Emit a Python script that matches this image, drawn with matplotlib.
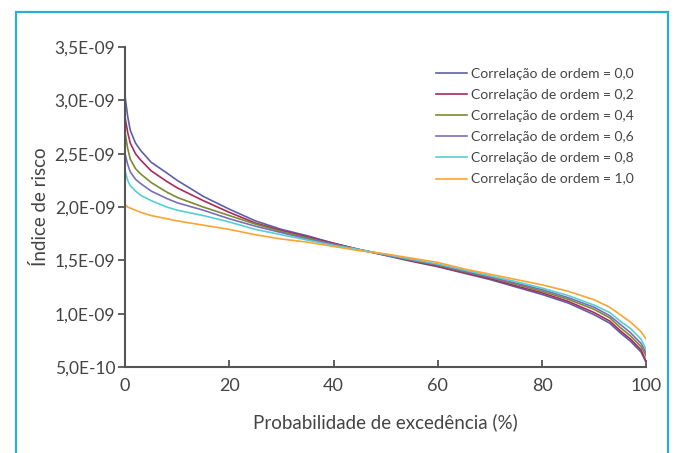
import matplotlib.pyplot as plt
from matplotlib.patches import Rectangle

# === DONNEES (valeurs en 1e-9) ===
prob = [0, 0.5, 1, 2, 3, 5, 8, 10, 15, 20, 25, 30, 35, 40, 45, 50, 55, 60,
        65, 70, 75, 80, 85, 90, 93, 95, 97, 99, 100]

r00 = [3.04, 2.85, 2.72, 2.60, 2.53, 2.42, 2.32, 2.25, 2.10, 1.98, 1.87, 1.79, 1.73, 1.66,
       1.60, 1.545, 1.49, 1.44, 1.38, 1.32, 1.25, 1.18, 1.10, 0.99, 0.91, 0.82, 0.74, 0.64, 0.54]
r02 = [2.84, 2.70, 2.60, 2.50, 2.44, 2.34, 2.24, 2.18, 2.06, 1.95, 1.85, 1.78, 1.72, 1.66,
       1.60, 1.55, 1.495, 1.445, 1.385, 1.33, 1.26, 1.195, 1.115, 1.01, 0.93, 0.84, 0.76, 0.66, 0.55]
r04 = [2.70, 2.55, 2.45, 2.36, 2.31, 2.23, 2.14, 2.09, 2.00, 1.92, 1.84, 1.77, 1.71, 1.65,
       1.60, 1.55, 1.50, 1.455, 1.395, 1.34, 1.275, 1.21, 1.135, 1.04, 0.96, 0.87, 0.79, 0.69, 0.60]
r06 = [2.50, 2.40, 2.33, 2.26, 2.22, 2.15, 2.08, 2.04, 1.97, 1.89, 1.82, 1.76, 1.70, 1.65,
       1.60, 1.55, 1.505, 1.46, 1.40, 1.345, 1.285, 1.225, 1.15, 1.06, 0.98, 0.90, 0.82, 0.72, 0.63]
r08 = [2.34, 2.25, 2.20, 2.15, 2.11, 2.06, 2.00, 1.97, 1.92, 1.86, 1.79, 1.74, 1.69, 1.64,
       1.60, 1.555, 1.51, 1.465, 1.41, 1.355, 1.30, 1.24, 1.17, 1.08, 1.01, 0.93, 0.86, 0.76, 0.66]
r10 = [2.02, 2.00, 1.99, 1.97, 1.95, 1.92, 1.89, 1.87, 1.83, 1.79, 1.74, 1.70, 1.67, 1.63,
       1.59, 1.56, 1.52, 1.48, 1.42, 1.37, 1.32, 1.27, 1.21, 1.13, 1.06, 0.99, 0.92, 0.83, 0.76]

series = [r00, r02, r04, r06, r08, r10]
labels = ["Correlação de ordem = 0,0", "Correlação de ordem = 0,2",
          "Correlação de ordem = 0,4", "Correlação de ordem = 0,6",
          "Correlação de ordem = 0,8", "Correlação de ordem = 1,0"]
colors = ["#5f5fa8", "#a82a5e", "#7d8a30", "#7a6eb8", "#55cfd2", "#f9a533"]

yticks = [0.5, 1.0, 1.5, 2.0, 2.5, 3.0, 3.5]
ytick_labels = ["5,0E-10", "1,0E-09", "1,5E-09", "2,0E-09", "2,5E-09", "3,0E-09", "3,5E-09"]
xticks = [0, 20, 40, 60, 80, 100]

# === TRACE ===
plt.rcParams['font.family'] = ['Lato', 'DejaVu Sans']
txt = "#444444"

fig = plt.figure(figsize=(6.76, 4.53), dpi=100)
ax = fig.add_axes([0.185, 0.19, 0.771, 0.706])

fig.patches.append(Rectangle((16 / 676, -0.1), (668 - 16) / 676, 1.1 - 12 / 453,
                             transform=fig.transFigure, fill=False,
                             edgecolor="#2aaed6", linewidth=1.6))

for v, lab, c in zip(series, labels, colors):
    ax.plot(prob, v, color=c, lw=1.2, label=lab)

ax.set_xlim(0, 100)
ax.set_ylim(0.5, 3.5)
ax.set_xticks(xticks)
ax.set_yticks(yticks)
ax.set_yticklabels(ytick_labels)
ax.tick_params(axis='y', direction='out', length=5, width=1.3, color="#555555",
               labelsize=12.5, labelcolor=txt, pad=2)
ax.tick_params(axis='x', direction='in', length=5, width=1.3, color="#555555",
               labelsize=13, labelcolor=txt, pad=8)
for s in ['top', 'right']:
    ax.spines[s].set_visible(False)
for s in ['left', 'bottom']:
    ax.spines[s].set_color("#555555")
    ax.spines[s].set_linewidth(1.5)

ax.set_xlabel("Probabilidade de excedência (%)", fontsize=13.5, color=txt, labelpad=14)
ax.set_ylabel("Índice de risco", fontsize=13.5, color=txt, labelpad=4)

leg = ax.legend(loc='upper right', bbox_to_anchor=(1.0, 0.975), frameon=False,
                fontsize=10, handlelength=2.2, handletextpad=0.3, labelspacing=0.66)
for t in leg.get_texts():
    t.set_color(txt)

plt.savefig("out.png", dpi=100)
